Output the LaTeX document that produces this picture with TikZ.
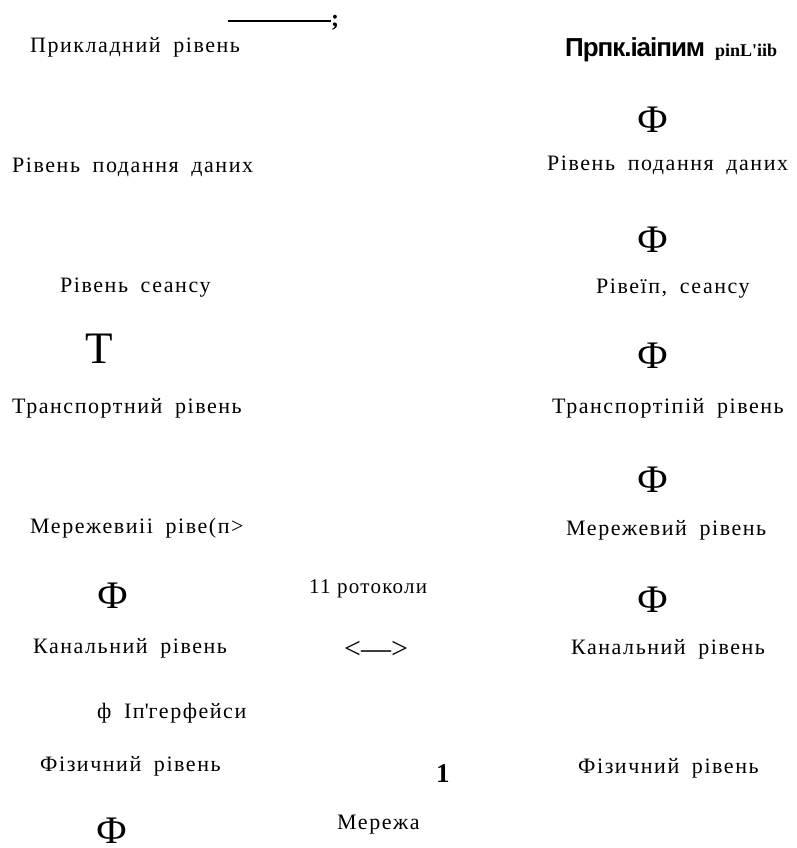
\documentclass[tikz,border=0pt]{standalone}
\usepackage{fontspec}
\setmainfont{Liberation Serif}
\newfontfamily\sansbold{Liberation Sans}
\newfontfamily\lblfont{Liberation Serif}[LetterSpace=7,WordSpace=1.8]
\tikzset{
  lbl/.style={inner sep=0pt, anchor=base west,
    font=\lblfont\fontsize{22}{22}\selectfont},
  phi/.style={inner sep=0pt, anchor=base west, font=\fontsize{39}{39}\selectfont},
  plain/.style={inner sep=0pt, anchor=base west}
}
\begin{document}
\begin{tikzpicture}[x=1pt,y=-1pt]
\useasboundingbox (0,0) rectangle (797,848);
% top line with semicolon
\coordinate (ls) at (228,21);
\node[plain, font=\fontsize{24}{24}\selectfont\bfseries] (semi) at (331,27) {;};
\draw[line width=1.1pt] (ls) -- (semi.west |- ls);
% left column
\node[lbl] (l1) at (30,53) {Прикладний рівень};
\node[lbl] (l2) at (12,172) {Рівень подання даних};
\node[lbl] (l3) at (60,292) {Рівень сеансу};
\node[plain, font=\fontsize{45}{45}\selectfont] (lt) at (85,363) {T};
\node[lbl] (l4) at (12,413) {Транспортний рівень};
\node[lbl] (l5) at (30,533) {Мережевиіі ріве(п>};
\node[phi] (lf1) at (97,608) {Ф};
\node[lbl] (l6) at (33,653) {Канальний рівень};
\node[lbl] (l7) at (97,718) {ф Іп\textquotesingle герфейси};
\node[lbl] (l8) at (40,771) {Фізичний рівень};
\node[phi] (lf2) at (96,843) {Ф};
% middle
\node[plain, font=\fontsize{21}{21}\selectfont\addfontfeature{LetterSpace=6}] (m1) at (309,593) {11 ротоколи};
\node[inner sep=0pt, font=\fontsize{30}{30}\selectfont] (m2) at (376,650) {<—>};
\node[plain, font=\fontsize{27}{27}\selectfont\bfseries] (m3) at (436,782) {1};
\node[lbl] (m4) at (337,829) {Мережа};
% right column
\node[plain, font=\fontsize{26}{26}\sansbold\bfseries\addfontfeature{LetterSpace=-4}] (r1a) at (565,57) {Прпк.іаіпим};
\node[plain, font=\fontsize{18}{18}\selectfont\bfseries] (r1b) at (715,57) {pinL\textquotesingle iib};
\node[phi] (rf1) at (637,132) {Ф};
\node[lbl] (r2) at (547,170) {Рівень подання даних};
\node[phi] (rf2) at (637,252) {Ф};
\node[lbl] (r3) at (596,293) {Рівеїп, сеансу};
\node[phi] (rf3) at (637,368) {Ф};
\node[lbl] (r4) at (552,413) {Транспортіпій рівень};
\node[phi] (rf4) at (637,492) {Ф};
\node[lbl] (r5) at (566,535) {Мережевий рівень};
\node[phi] (rf5) at (637,612) {Ф};
\node[lbl] (r6) at (571,654) {Канальний рівень};
\node[lbl] (r7) at (578,773) {Фізичний рівень};
\end{tikzpicture}
\end{document}
